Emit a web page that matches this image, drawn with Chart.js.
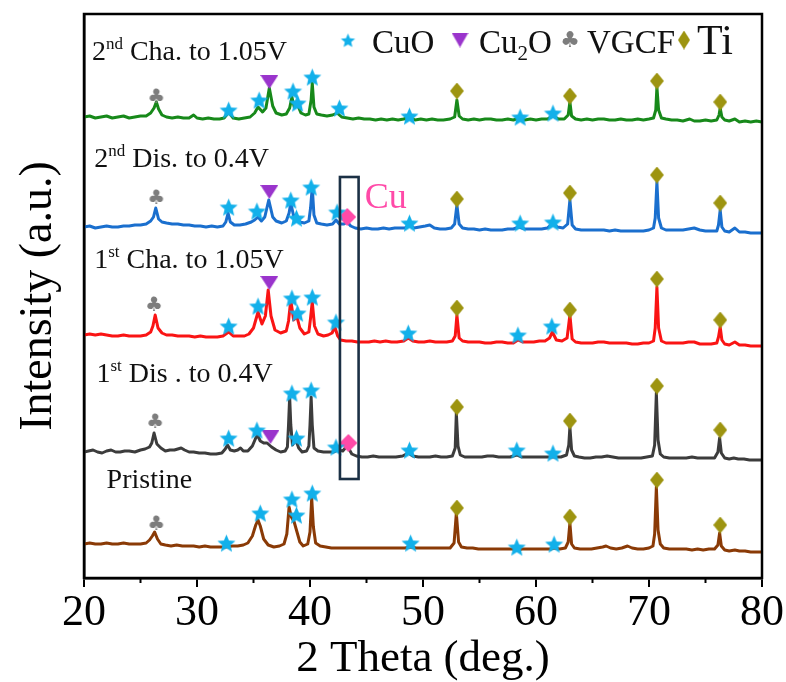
<!DOCTYPE html>
<html>
<head>
<meta charset="utf-8">
<script src="https://cdn.jsdelivr.net/npm/chart.js@4.4.1/dist/chart.umd.min.js"></script>
<style>
  html, body { margin: 0; padding: 0; background: #fff; }
</style>
</head>
<body>
<canvas id="xrdChart" width="786" height="682"></canvas>
<script>
// patterns: [2theta, intensity above own baseline]
const seriesNames = ['2nd Cha. to 1.05V', '2nd Dis. to 0.4V', '1st Cha. to 1.05V', '1st Dis . to 0.4V', 'Pristine'];
const offsets = [456, 345, 232, 118, 26];

const cha2 = [[20,5],[20.5,6],[21,4],[21.5,5],[22,6],[22.5,4],[23,5],[23.5,6],[24,4],[24.5,5],[25,6],[25.5,6],[25.9,9],[26.2,14],[26.4,20],[26.6,13],[26.9,7],[27.3,5],[27.8,4],[28.3,5],[28.8,4],[29.3,4],[29.7,7],[30,4],[30.5,3],[31,4],[31.5,3],[32,3],[32.4,4],[32.8,10],[33.2,4],[33.7,3],[34.2,4],[34.7,5],[35.1,9],[35.4,15],[35.8,10],[36.1,14],[36.4,34],[36.7,16],[37,9],[37.5,7],[37.9,8],[38.2,14],[38.4,25],[38.6,15],[38.9,17],[39.2,9],[39.6,7],[39.9,8],[40.1,22],[40.2,39],[40.35,15],[40.6,8],[41,7],[41.5,6],[42,7],[42.4,9],[42.8,5],[43.3,4],[43.8,3],[44.3,4],[44.8,3],[45.3,3],[45.8,2],[46.3,3],[46.8,2],[47.3,3],[47.8,2],[48.3,3],[48.8,5],[49.3,2],[49.8,3],[50.3,2],[50.8,3],[51.3,2],[51.8,2],[52.4,3],[52.8,5],[53,22],[53.2,6],[53.5,3],[54,2],[54.5,3],[55,2],[55.5,3],[56,3],[56.5,2],[57,2],[57.5,3],[58,2],[58.5,4],[59,2],[59.5,3],[60,2],[60.5,3],[61,3],[61.5,6],[62,3],[62.5,3],[62.85,7],[63,20],[63.15,6],[63.5,3],[64,2],[64.5,3],[65,2],[65.5,3],[66,3],[66.5,2],[67,2],[67.5,3],[68,2],[68.5,2],[69,3],[69.5,2],[70,3],[70.4,4],[70.6,12],[70.7,35],[70.85,12],[71.1,4],[71.5,3],[72,2],[72.5,2],[73,1],[73.6,3],[74,1],[74.5,1],[75,2],[75.5,1],[76,2],[76.2,7],[76.3,14],[76.45,5],[76.7,2],[77.1,1],[77.6,3],[78,0],[78.5,1],[79,0],[79.5,1],[80,0]];

const dis2 = [[20,6],[20.5,7],[21,5],[21.5,6],[22,7],[22.5,6],[23,6],[23.5,7],[24,7],[24.5,8],[25,8],[25.5,9],[25.9,12],[26.15,16],[26.35,25],[26.6,14],[26.9,11],[27.3,10],[27.8,9],[28.3,9],[28.8,8],[29.3,8],[29.8,7],[30.3,7],[30.8,6],[31.3,7],[31.8,6],[32.3,7],[32.55,11],[32.75,20],[32.95,11],[33.3,8],[33.8,8],[34.3,9],[34.8,11],[35.1,13],[35.4,16],[35.7,12],[36,16],[36.35,33],[36.7,16],[37,12],[37.5,10],[37.9,12],[38.15,20],[38.3,30],[38.55,17],[38.8,18],[39.1,11],[39.5,10],[39.9,12],[40.05,25],[40.2,46],[40.35,18],[40.6,10],[41,9],[41.5,8],[42,9],[42.3,13],[42.6,9],[43,9],[43.3,11],[43.6,7],[44,5],[44.5,4],[45,5],[45.5,4],[46,4],[46.5,5],[47,4],[47.5,5],[48,5],[48.4,5],[48.8,8],[49.2,5],[49.7,6],[50.2,7],[50.6,8],[51,5],[51.5,4],[52,4],[52.5,5],[52.8,9],[53,28],[53.2,9],[53.5,5],[54,4],[54.5,4],[55,3],[55.5,4],[56,3],[56.5,3],[57,3],[57.5,4],[58,4],[58.5,6],[59,4],[59.5,4],[60,4],[60.5,4],[61,5],[61.5,10],[61.9,6],[62.4,5],[62.8,9],[63,33],[63.2,8],[63.5,4],[64,3],[64.5,3],[65,3],[65.5,3],[66,3],[66.5,2],[67,3],[67.5,2],[68,2],[68.5,2],[69,2],[69.5,2],[70,3],[70.4,5],[70.55,15],[70.7,51],[70.85,15],[71.1,5],[71.5,3],[72,3],[72.5,3],[73,3],[73.5,4],[74,5],[74.5,3],[75,2],[75.5,2],[76,2],[76.15,8],[76.3,23],[76.45,6],[76.7,2],[77.1,1],[77.6,5],[78,1],[78.5,1],[79,0],[79.5,0],[80,0]];

const cha1 = [[20,11],[20.5,12],[21,11],[21.5,12],[22,11],[22.5,10],[23,10],[23.5,11],[24,10],[24.5,10],[25,10],[25.5,11],[25.9,14],[26.1,20],[26.3,31],[26.55,18],[26.9,13],[27.3,11],[27.8,11],[28.3,10],[28.8,10],[29.3,10],[29.8,9],[30.3,10],[30.8,9],[31.3,9],[31.8,9],[32.3,10],[32.8,14],[33.2,10],[33.7,10],[34.2,10],[34.6,12],[35,18],[35.4,34],[35.75,22],[36.05,30],[36.3,56],[36.55,30],[36.9,16],[37.4,13],[37.9,15],[38.1,25],[38.3,46],[38.55,26],[38.85,29],[39.1,18],[39.5,12],[39.9,14],[40.05,28],[40.2,44],[40.4,20],[40.7,12],[41.2,10],[41.6,11],[41.95,13],[42.2,19],[42.45,10],[42.7,6],[43.2,5],[43.7,5],[44.2,4],[44.7,4],[45.2,4],[45.7,5],[46.2,4],[46.7,5],[47.2,4],[47.7,4],[48.3,5],[48.7,8],[49.1,5],[49.6,4],[50.1,4],[50.6,5],[51.1,4],[51.6,4],[52.1,4],[52.6,5],[52.85,10],[53,31],[53.2,8],[53.5,5],[54,4],[54.5,4],[55,4],[55.5,3],[56,3],[56.5,4],[57,4],[57.5,3],[58,3],[58.4,6],[58.8,4],[59.3,4],[59.8,4],[60.3,5],[60.8,5],[61.2,8],[61.45,14],[61.8,6],[62.3,5],[62.75,8],[63,31],[63.2,7],[63.5,4],[64,3],[64.5,3],[65,3],[65.5,4],[66,4],[66.5,3],[67,3],[67.5,3],[68,3],[68.5,2],[69,2],[69.5,3],[70,3],[70.4,5],[70.55,18],[70.7,59],[70.85,18],[71.1,5],[71.5,3],[72,3],[72.5,3],[73,3],[73.5,4],[74,4],[74.5,2],[75,2],[75.5,2],[76,3],[76.15,9],[76.3,19],[76.45,6],[76.7,2],[77.1,1],[77.6,4],[78,1],[78.5,1],[79,0],[79.5,0],[80,0]];

const dis1 = [[20,8],[20.4,9],[20.8,10],[21.2,8],[21.6,7],[22,9],[22.4,10],[22.8,8],[23.2,8],[23.6,9],[24,9],[24.5,8],[25,10],[25.4,11],[25.8,13],[26,17],[26.2,27],[26.45,16],[26.8,12],[27.2,9],[27.6,10],[28,10],[28.3,11],[28.6,12],[28.9,10],[29.3,8],[29.7,8],[30.2,7],[30.7,7],[31.2,6],[31.7,6],[32.2,7],[32.5,11],[32.7,15],[32.95,10],[33.3,9],[33.6,10],[33.85,12],[34.1,9],[34.5,9],[34.9,14],[35.2,22],[35.35,25],[35.6,19],[35.9,17],[36.2,17],[36.6,13],[37,10],[37.4,8],[37.8,9],[38,13],[38.1,35],[38.2,63],[38.3,35],[38.45,15],[38.75,20],[39,12],[39.3,8],[39.7,9],[39.9,14],[40,35],[40.1,63],[40.2,35],[40.35,12],[40.7,9],[41.2,8],[41.7,8],[42.1,8],[42.5,10],[42.9,9],[43.2,13],[43.4,12],[43.7,6],[44.1,4],[44.6,3],[45.1,3],[45.6,4],[46.1,3],[46.6,3],[47.1,3],[47.6,3],[48.2,4],[48.7,7],[49.1,4],[49.6,3],[50.1,3],[50.6,3],[51.1,4],[51.6,3],[52.1,3],[52.6,4],[52.85,12],[52.95,47],[53.1,14],[53.3,5],[53.7,3],[54.2,3],[54.7,3],[55.2,3],[55.7,4],[56.2,4],[56.7,3],[57.2,3],[57.7,3],[58.3,5],[58.7,3],[59.2,3],[59.7,3],[60.2,3],[60.7,3],[61.2,3],[61.7,3],[62.2,3],[62.7,5],[62.9,15],[63,33],[63.15,10],[63.4,4],[63.8,3],[64.3,2],[64.8,2],[65.3,3],[65.8,3],[66.3,4],[66.8,3],[67.3,2],[67.8,2],[68.3,2],[68.8,2],[69.3,2],[69.8,3],[70.3,4],[70.5,15],[70.65,67],[70.8,20],[71,6],[71.3,3],[71.8,2],[72.3,2],[72.8,2],[73.3,2],[73.8,3],[74.3,2],[74.8,2],[75.3,2],[75.8,2],[76.1,8],[76.25,22],[76.4,7],[76.7,2],[77.1,1],[77.5,2],[77.9,1],[78.4,1],[78.9,0],[79.4,0],[80,0]];

const pristine = [[20,8],[20.5,9],[21,8],[21.5,8],[22,9],[22.5,8],[23,8],[23.5,9],[24,8],[24.5,8],[25,8],[25.5,9],[25.8,12],[26.05,16],[26.25,20],[26.5,13],[26.8,8],[27.2,7],[27.7,6],[28.2,7],[28.7,6],[29.2,6],[29.7,6],[30.2,5],[30.7,6],[31.2,5],[31.7,5],[32.2,5],[32.6,5],[33.1,6],[33.6,6],[34.1,7],[34.5,9],[34.9,16],[35.2,27],[35.4,32],[35.6,26],[35.9,13],[36.3,7],[36.8,5],[37.3,6],[37.7,8],[37.95,18],[38.15,45],[38.35,35],[38.6,30],[38.85,20],[39.1,10],[39.4,6],[39.8,8],[40,20],[40.15,54],[40.3,25],[40.5,9],[40.9,6],[41.4,5],[41.9,4],[42.4,4],[42.9,4],[43.4,4],[43.9,4],[44.4,4],[44.9,4],[45.4,4],[45.9,4],[46.4,4],[46.9,4],[47.4,4],[47.9,4],[48.4,4],[48.9,5],[49.4,4],[49.9,4],[50.4,4],[50.9,4],[51.4,4],[51.9,4],[52.4,4],[52.75,9],[52.95,39],[53.15,10],[53.4,5],[53.9,4],[54.4,4],[54.9,3],[55.4,3],[55.9,3],[56.4,3],[56.9,3],[57.4,3],[57.9,3],[58.3,2],[58.8,3],[59.3,3],[59.8,3],[60.3,3],[60.8,3],[61.3,3],[61.6,4],[62.1,3],[62.6,4],[62.85,10],[63,29],[63.15,8],[63.4,4],[63.9,3],[64.4,3],[64.9,3],[65.4,4],[65.9,5],[66.2,6],[66.6,4],[67.1,3],[67.6,4],[68.1,6],[68.5,4],[69,3],[69.5,3],[70,4],[70.35,6],[70.5,18],[70.65,65],[70.8,22],[71,8],[71.3,4],[71.8,3],[72.3,3],[72.8,3],[73.3,3],[73.8,2],[74.3,3],[74.8,2],[75.3,3],[75.8,3],[76.1,7],[76.25,19],[76.4,6],[76.7,2],[77.1,1],[77.6,2],[78,1],[78.5,1],[79,0],[79.5,0],[80,0]];

const patterns = [cha2, dis2, cha1, dis1, pristine];
const lineColors = ['#17891a', '#1a6fce', '#fa1414', '#3c3c3c', '#8a3a06'];

// phase markers [2theta, absolute stacked intensity]
const cuoMarks = [[32.8,468],[35.5,478],[38.5,487],[38.9,475],[40.2,501],[42.6,470],[48.8,462],[58.6,461],[61.5,465],
  [32.8,371],[35.3,367],[38.3,378],[38.8,360],[40.1,391],[42.4,366],[48.8,355],[58.6,355],[61.5,356],
  [32.8,252],[35.4,272],[38.4,280],[38.9,265],[40.2,281],[42.3,256],[48.7,245],[58.4,243],[61.4,252],
  [32.8,140],[35.3,148],[38.4,185],[38.8,140],[40.1,188],[42.3,131],[48.8,128],[58.3,128],[61.5,125],
  [32.6,35],[35.6,65],[38.4,79],[38.8,63],[40.2,85],[48.9,35],[58.3,31],[61.6,34]];
const cu2oMarks = [[36.4,496],[36.4,386],[36.4,295],[36.5,141]];
const vgcfMarks = [[26.4,481],[26.4,380],[26.2,273],[26.3,156],[26.4,54]];
const tiMarks = [[53.0,487],[63.0,482],[70.7,497],[76.3,476],
  [53.0,379],[63.0,385],[70.7,403],[76.3,375],
  [53.0,270],[63.0,268],[70.7,299],[76.3,258],
  [53.0,171],[63.0,157],[70.7,192],[76.3,148],
  [53.0,70],[63.0,61],[70.7,98],[76.3,53]];
const cuMarks = [[43.3,361],[43.4,135]];

const xTicks = [20, 30, 40, 50, 60, 70, 80];

const serif = '"Liberation Serif", "Times New Roman", serif';

function starImg(r, color) {
  const c = document.createElement('canvas');
  c.width = c.height = Math.ceil(2 * r + 2);
  const g = c.getContext('2d');
  g.fillStyle = color;
  g.beginPath();
  for (let i = 0; i < 10; i++) {
    const a = -Math.PI / 2 + i * Math.PI / 5;
    const rr = i % 2 ? r * 0.45 : r;
    g.lineTo(c.width / 2 + rr * Math.cos(a), c.height / 2 + 1 + rr * Math.sin(a));
  }
  g.closePath();
  g.fill();
  return c;
}
function diamondImg(w, h, color) {
  const c = document.createElement('canvas');
  c.width = w; c.height = h;
  const g = c.getContext('2d');
  g.fillStyle = color;
  g.beginPath();
  g.moveTo(w / 2, 0); g.lineTo(w, h / 2); g.lineTo(w / 2, h); g.lineTo(0, h / 2);
  g.closePath(); g.fill();
  return c;
}
function triImg(w, h, color) {
  const c = document.createElement('canvas');
  c.width = w; c.height = h;
  const g = c.getContext('2d');
  g.fillStyle = color;
  g.beginPath();
  g.moveTo(0, 0); g.lineTo(w, 0); g.lineTo(w / 2, h);
  g.closePath(); g.fill();
  return c;
}
function clubImg(size, color) {
  const c = document.createElement('canvas');
  c.width = c.height = size + 4;
  const g = c.getContext('2d');
  g.fillStyle = color;
  g.font = size + 'px "DejaVu Sans"';
  g.textAlign = 'center';
  g.textBaseline = 'middle';
  g.fillText('\u2663', c.width / 2, c.height / 2 + 1);
  return c;
}

const cBlue = '#12b0ea', cPurple = '#9a34cc', cGray = '#7d7d7d', cOlive = '#9d9410', cPink = '#ff4aa8';
const icons = {
  star: starImg(9.5, cBlue), tri: triImg(18, 14, cPurple), club: clubImg(20, cGray),
  ti: diamondImg(14, 17, cOlive), cu: diamondImg(18, 18, cPink),
  starL: starImg(7.5, cBlue), triL: triImg(17, 15, cPurple), clubL: clubImg(22, cGray), tiL: diamondImg(12, 19, cOlive)
};

const toXY = arr => arr.map(p => ({ x: p[0], y: p[1] }));

const datasets = [];
[['star', cuoMarks], ['tri', cu2oMarks], ['club', vgcfMarks], ['ti', tiMarks], ['cu', cuMarks]].forEach(([k, arr]) => {
  datasets.push({ data: toXY(arr), pointStyle: icons[k], pointRadius: 8, showLine: false, order: 0 });
});
patterns.forEach((pat, i) => {
  datasets.push({
    label: seriesNames[i],
    data: pat.map(p => ({ x: p[0], y: p[1] + offsets[i] })),
    showLine: true, borderColor: lineColors[i], borderWidth: 3,
    pointRadius: 0, tension: 0, order: 1, borderJoinStyle: 'round'
  });
});

// layout of the free text (in data units)
const labelPos = [[20.7, 518], [20.9, 411], [20.9, 310], [21.1, 196], [22.0, 90]];
const cuBox = { x0: 42.65, x1: 44.3, y0: 99, y1: 401 };

function drawSeriesLabel(ctx, text, x, yb, size) {
  const m = text.match(/^(\d)(st|nd|rd|th)(.*)$/);
  ctx.font = size + 'px ' + serif;
  if (!m) { ctx.fillText(text, x, yb); return; }
  ctx.fillText(m[1], x, yb);
  let cx = x + ctx.measureText(m[1]).width;
  ctx.font = Math.round(size * 0.62) + 'px ' + serif;
  ctx.fillText(m[2], cx, yb - size * 0.4);
  cx += ctx.measureText(m[2]).width;
  ctx.font = size + 'px ' + serif;
  ctx.fillText(m[3], cx, yb);
}

const overlay = {
  id: 'overlay',
  afterDraw(chart) {
    const { ctx, chartArea: a, scales: { x, y } } = chart;
    ctx.save();
    // frame
    ctx.strokeStyle = '#000';
    ctx.lineWidth = 2.5;
    ctx.strokeRect(a.left, a.top, a.right - a.left, a.bottom - a.top);
    // minor ticks
    ctx.lineWidth = 2;
    for (let v = 25; v < 80; v += 10) {
      const px = x.getPixelForValue(v);
      ctx.beginPath(); ctx.moveTo(px, a.bottom); ctx.lineTo(px, a.bottom + 5); ctx.stroke();
    }
    // Cu box
    ctx.strokeStyle = '#1b3045';
    ctx.lineWidth = 2.6;
    const bx0 = x.getPixelForValue(cuBox.x0), bx1 = x.getPixelForValue(cuBox.x1);
    const by0 = y.getPixelForValue(cuBox.y1), by1 = y.getPixelForValue(cuBox.y0);
    ctx.strokeRect(bx0, by0, bx1 - bx0, by1 - by0);
    // Cu label
    ctx.fillStyle = cPink;
    ctx.textBaseline = 'alphabetic';
    ctx.textAlign = 'left';
    ctx.font = '36px ' + serif;
    ctx.fillText('Cu', x.getPixelForValue(44.85), y.getPixelForValue(370));
    // series labels
    ctx.fillStyle = '#111';
    seriesNames.forEach((s, i) => {
      drawSeriesLabel(ctx, s, x.getPixelForValue(labelPos[i][0]), y.getPixelForValue(labelPos[i][1]), 28);
    });
    // phase legend
    const ly = 53, my = 40;
    const icon = (img, cx) => ctx.drawImage(img, cx - img.width / 2, my - img.height / 2);
    ctx.fillStyle = '#111';
    icon(icons.starL, 348);
    ctx.font = '33px ' + serif;
    ctx.fillText('CuO', 372, ly);
    icon(icons.triL, 460);
    let cx = 479;
    ctx.fillText('Cu', cx, ly); cx += ctx.measureText('Cu').width;
    ctx.font = '21px ' + serif;
    ctx.fillText('2', cx, ly + 7); cx += ctx.measureText('2').width;
    ctx.font = '33px ' + serif;
    ctx.fillText('O', cx, ly);
    icon(icons.clubL, 570);
    ctx.fillText('VGCF', 587, ly);
    icon(icons.tiL, 684);
    ctx.font = '42px ' + serif;
    ctx.fillText('Ti', 697, ly + 1);
    ctx.restore();
  }
};

new Chart(document.getElementById('xrdChart'), {
  type: 'scatter',
  data: { datasets },
  options: {
    responsive: false,
    animation: false,
    layout: { padding: { top: 14, right: 24, left: 0, bottom: 0 } },
    plugins: { legend: { display: false }, tooltip: { enabled: false } },
    scales: {
      x: {
        type: 'linear', min: 20, max: 80,
        afterBuildTicks: s => { s.ticks = xTicks.map(v => ({ value: v })); },
        afterFit: s => { s.height = 104; },
        ticks: { color: '#000', font: { family: serif, size: 44 }, padding: 0, maxRotation: 0 },
        grid: { display: true, drawOnChartArea: false, drawTicks: true, tickLength: 9, color: '#000', lineWidth: 2 },
        border: { display: true, color: '#000', width: 2.5 },
        title: { display: true, text: '2 Theta (deg.)', color: '#000', font: { family: serif, size: 45, lineHeight: 1 }, padding: { top: 0, bottom: 0 } }
      },
      y: {
        min: 0, max: 564,
        afterFit: s => { s.width = 84; },
        ticks: { display: false },
        grid: { display: false },
        border: { display: true, color: '#000', width: 2.5 },
        title: { display: true, text: 'Intensity (a.u.)', color: '#000', font: { family: serif, size: 46, lineHeight: 1 }, padding: { top: 16, bottom: 0 } }
      }
    }
  },
  plugins: [overlay]
});
</script>
</body>
</html>
